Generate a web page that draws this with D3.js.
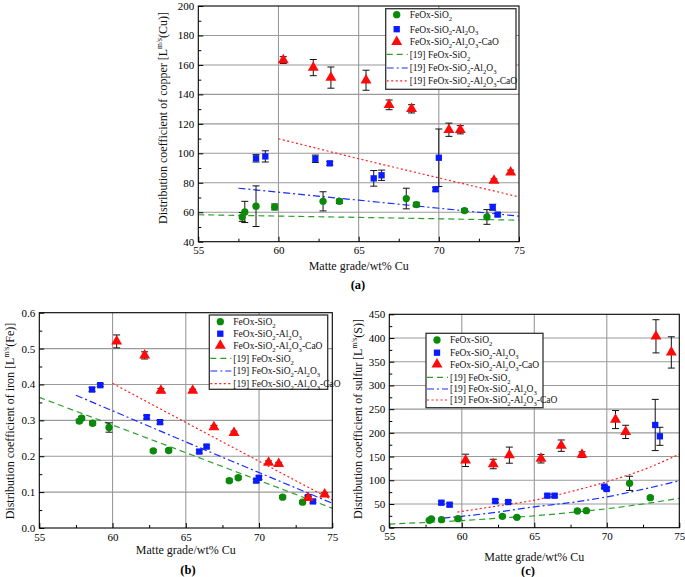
<!DOCTYPE html>
<html><head><meta charset="utf-8">
<script src="https://cdn.jsdelivr.net/npm/d3@7"></script>
<style>
html,body{margin:0;padding:0;background:#fff;}
svg, svg text{font-family:"Liberation Serif","Times New Roman","DejaVu Serif",serif !important;}
</style></head>
<body>
<svg id="chart" width="685" height="577"></svg>
<script>
// ---------- DATA ----------
const xTicks = [55, 60, 65, 70, 75];
const xMinorTicks = [57.5, 62.5, 67.5, 72.5];
const cuYTicks = [40, 60, 80, 100, 120, 140, 160, 180, 200];
const feYTicks = [0.0, 0.1, 0.2, 0.3, 0.4, 0.5, 0.6];
const sYTicks = [0, 50, 100, 150, 200, 250, 300, 350, 400, 450];

const legendLabels = ["FeOx-SiO2", "FeOx-SiO2-Al2O3", "FeOx-SiO2-Al2O3-CaO",
  "[19] FeOx-SiO2", "[19] FeOx-SiO2-Al2O3", "[19] FeOx-SiO2-Al2O3-CaO"];

// [matte grade, value, error]
const cuSiO2 = [[57.74,56.8,3],[57.9,60.2,7.2],[58.6,64.1,13.8],[59.76,63.6,2],[62.78,67.4,6.5],[63.8,67.4,1.5],[67.97,69.3,7],[68.6,65.2,1.5],[71.6,61.1,1.2],[73.0,56.8,5]];
const cuAl = [[58.6,96.6,2.5],[59.18,97.9,3.8],[62.3,96.3,2.5],[63.2,93.2,1.3],[65.94,83.0,5.3],[66.43,85.1,3.5],[69.8,75.6,1.3],[70.0,97.0,19.5],[73.36,63.4,2],[73.67,58.4,1]];
const cuCaO = [[60.3,163.3,2.3],[62.17,158.2,5.5],[63.27,151.4,7.2],[65.46,149.6,6.8],[66.9,132.9,3.3],[68.3,130.2,2.8],[70.63,116.0,4.5],[71.34,116.0,2.8],[73.44,81.5,1.2],[74.48,87.1,1.5]];
const cuRefSiO2 = [[55,58.3],[65,56.5],[75,54.6]];
const cuRefAl = [[57.5,76.3],[65,68.2],[75,57.3]];
const cuRefCaO = [[60,109.9],[65,96.3],[70,83.3],[75,70.4]];

const feSiO2 = [[57.73,0.298,0.005],[57.89,0.306,0.005],[58.64,0.292,0.005],[59.76,0.280,0.013],[62.78,0.215,0.004],[63.83,0.216,0.004],[67.97,0.132,0.004],[68.58,0.140,0.004],[71.61,0.086,0.004],[72.97,0.072,0.004]];
const feAl = [[58.6,0.386,0.006],[59.16,0.398,0.004],[62.33,0.309,0.005],[63.24,0.295,0.005],[65.92,0.213,0.004],[66.42,0.227,0.004],[69.81,0.132,0.004],[69.99,0.140,0.005],[73.34,0.086,0.004],[73.68,0.074,0.004]];
const feCaO = [[60.28,0.520,0.018],[62.19,0.481,0.01],[63.3,0.383,0.006],[65.47,0.383,0.004],[66.92,0.281,0.005],[68.29,0.265,0.005],[70.65,0.182,0.005],[71.34,0.179,0.004],[73.36,0.084,0.004],[74.48,0.094,0.004]];
const feRefSiO2 = [[55,0.364],[65,0.210],[75,0.055]];
const feRefAl = [[57.5,0.370],[65,0.240],[75,0.069]];
const feRefCaO = [[60,0.403],[65,0.294],[75,0.078]];

const sSiO2 = [[57.76,15.5,2],[57.9,18.3,2],[58.6,16.9,2],[59.74,19.0,2],[62.8,23.9,2],[63.8,21.8,2],[67.97,35.2,2.5],[68.59,35.9,2.5],[71.57,93.5,15],[73.0,63.3,3]];
const sAl = [[58.59,52.7,3],[59.16,48.5,3],[62.31,56.3,3],[63.2,54.1,3],[65.9,67.5,3],[66.4,67.5,3],[69.83,86.5,3],[69.99,81.6,3],[73.34,216.6,54],[73.66,192.7,19]];
const sCaO = [[60.26,142,13],[62.17,134.3,10],[63.28,153,17],[65.46,145.5,9],[66.86,173,12],[68.29,154,6],[70.6,228,19],[71.3,202,14],[73.39,403.6,35],[74.45,369.6,33]];
const sRefSiO2 = [[55,7.7],[57.5,11],[60,15],[62.5,20],[65,25],[67.5,32],[70,40],[72.5,50],[75,62]];
const sRefAl = [[57.7,17.6],[60,24],[62.5,33],[65,44],[67.5,53],[70,65],[72.5,81],[75,99]];
const sRefCaO = [[59.7,33],[62.5,46],[65,58],[67.5,76],[70,97],[72.5,122],[75,155]];

// ---------- STYLE ----------
const GREEN = "#0a8a0a", BLUE = "#0a1cff", RED = "#ff0a0a";
const seriesStyle = [
  {color: GREEN, shape: d3.symbolCircle, size: 42},
  {color: BLUE, shape: d3.symbolSquare, size: 40},
  {color: RED, shape: d3.symbolTriangle, size: 52}
];
const refStyle = [
  {color: "#2aa02a", dash: "6,4", width: 1.2},
  {color: "#1a2cff", dash: "7,3,2,3", width: 1.2},
  {color: "#ff2020", dash: "2,2.5", width: 1.2}
];
const FONT = '"Liberation Serif","Times New Roman","DejaVu Serif",serif';

const svg = d3.select("#chart");

function richText(t, str, size) {
  const parts = [];
  for (let i = 0; i < str.length; i++) {
    const c = str[i];
    const sub = /\d/.test(c) && i > 0 && /[A-Za-z]/.test(str[i-1]);
    if (parts.length && parts[parts.length-1].sub === sub) parts[parts.length-1].t += c;
    else parts.push({t: c, sub});
  }
  let shift = 0;
  parts.forEach(p => {
    const ts = t.append("tspan").text(p.t);
    if (p.sub) { ts.attr("dy", size*0.3).attr("font-size", size*0.7); shift = size*0.3; }
    else if (shift) { ts.attr("dy", -shift); shift = 0; }
  });
}

const panels = [
  {left:198.3, right:519, top:6, bottom:241.7, yDomain:[40,200], yTicks:cuYTicks, yFmt:d3.format("d"),
   series:[cuSiO2,cuAl,cuCaO], refs:[cuRefSiO2,cuRefAl,cuRefCaO], curve:d3.curveLinear,
   yTitle:["Distribution coefficient of copper [L","m/s","(Cu)]"], yTitleX:163, yTitleY:118,
   xTitleY:270, caption:"(a)", capX:358, capY:289,
   legend:{x:385.7, y:8.7, w:130.3, h:80.6, rows:[14.7,29.2,41.9,54.3,68,80.9]}},
  {left:39.3, right:332.3, top:312.7, bottom:528, yDomain:[0,0.6], yTicks:feYTicks, yFmt:d3.format(".1f"),
   series:[feSiO2,feAl,feCaO], refs:[feRefSiO2,feRefAl,feRefCaO], curve:d3.curveLinear,
   yTitle:["Distribution coefficient of iron [L","m/s","(Fe)]"], yTitleX:10, yTitleY:421,
   xTitleY:554, caption:"(b)", capX:188, capY:574,
   legend:{x:209.3, y:315, w:118.4, h:74.3, rows:[321.7,333.7,345.7,358.3,371,383.7]}},
  {left:389.3, right:679.3, top:314.3, bottom:527.7, yDomain:[0,450], yTicks:sYTicks, yFmt:d3.format("d"),
   series:[sSiO2,sAl,sCaO], refs:[sRefSiO2,sRefAl,sRefCaO], curve:d3.curveMonotoneX,
   yTitle:["Distribution coefficient of sulfur [L","m/s","(S)]"], yTitleX:358, yTitleY:419,
   xTitleY:561, caption:"(c)", capX:528, capY:575,
   legend:{x:426, y:333.3, w:117, h:74.4, rows:[340,352.7,364.3,377.3,389,400]}}
];

panels.forEach((p, pi) => {
  const x = d3.scaleLinear().domain([55,75]).range([p.left, p.right]);
  const y = d3.scaleLinear().domain(p.yDomain).range([p.bottom, p.top]);
  const g = svg.append("g");

  // grid
  g.append("g").selectAll("line").data(xTicks.slice(1,-1)).join("line")
    .attr("x1", d => x(d)).attr("x2", d => x(d)).attr("y1", p.top).attr("y2", p.bottom)
    .attr("stroke", "#9a9a9a").attr("stroke-width", 1.1);
  g.append("g").selectAll("line").data(p.yTicks.slice(1,-1)).join("line")
    .attr("y1", d => y(d)).attr("y2", d => y(d)).attr("x1", p.left).attr("x2", p.right)
    .attr("stroke", "#9a9a9a").attr("stroke-width", 1.1);

  const step = p.yTicks[1] - p.yTicks[0];
  const yMinor = p.yTicks.slice(0,-1).map(d => d + step/2);

  // axes
  g.append("g").attr("transform", `translate(0,${p.bottom})`)
    .call(d3.axisBottom(x).tickValues(xTicks).tickSize(-5).tickPadding(5).tickFormat(d3.format("d")));
  g.append("g").attr("transform", `translate(0,${p.bottom})`)
    .call(d3.axisBottom(x).tickValues(xMinorTicks).tickSize(-3).tickFormat(""));
  g.append("g").attr("transform", `translate(${p.left},0)`)
    .call(d3.axisLeft(y).tickValues(p.yTicks).tickSize(-5).tickPadding(4).tickFormat(p.yFmt));
  g.append("g").attr("transform", `translate(${p.left},0)`)
    .call(d3.axisLeft(y).tickValues(yMinor).tickSize(-3).tickFormat(""));
  g.selectAll(".domain").remove();
  g.selectAll("g").attr("font-family", FONT);
  g.selectAll(".tick line").attr("stroke", "#000");
  g.selectAll(".tick text").attr("font-size", 11).attr("fill", "#000");

  // reference lines
  p.refs.forEach((r, i) => {
    g.append("path").datum(r)
      .attr("d", d3.line().x(d => x(d[0])).y(d => y(d[1])).curve(p.curve))
      .attr("fill", "none").attr("stroke", refStyle[i].color)
      .attr("stroke-width", refStyle[i].width).attr("stroke-dasharray", refStyle[i].dash);
  });

  // series: error bars + markers
  p.series.forEach((s, i) => {
    const st = seriesStyle[i];
    const eg = g.append("g").attr("stroke", "#111").attr("stroke-width", 1);
    s.forEach(d => {
      const y1 = y(d[1] + d[2]), y2 = y(d[1] - d[2]);
      eg.append("line").attr("x1", x(d[0])).attr("x2", x(d[0])).attr("y1", y1).attr("y2", y2);
      eg.append("line").attr("x1", x(d[0]) - 3.5).attr("x2", x(d[0]) + 3.5).attr("y1", y1).attr("y2", y1);
      eg.append("line").attr("x1", x(d[0]) - 3.5).attr("x2", x(d[0]) + 3.5).attr("y1", y2).attr("y2", y2);
    });
    g.append("g").selectAll("path").data(s).join("path")
      .attr("d", d3.symbol().type(st.shape).size(st.size))
      .attr("transform", d => `translate(${x(d[0])},${y(d[1])})`)
      .attr("fill", st.color);
  });

  // frame
  g.append("rect").attr("x", p.left).attr("y", p.top)
    .attr("width", p.right - p.left).attr("height", p.bottom - p.top)
    .attr("fill", "none").attr("stroke", "#000").attr("stroke-width", 1.1);

  // legend
  const L = p.legend;
  const lg = g.append("g");
  lg.append("rect").attr("x", L.x).attr("y", L.y).attr("width", L.w).attr("height", L.h)
    .attr("fill", "#fff").attr("stroke", "#333").attr("stroke-width", 1.3);
  legendLabels.forEach((lab, i) => {
    const ry = L.rows[i];
    if (i < 3) {
      const st = seriesStyle[i];
      lg.append("path").attr("d", d3.symbol().type(st.shape).size(st.size))
        .attr("transform", `translate(${L.x + 11},${ry})`).attr("fill", st.color);
    } else {
      const rs = refStyle[i-3];
      lg.append("line").attr("x1", L.x + 1).attr("x2", L.x + 22).attr("y1", ry).attr("y2", ry)
        .attr("stroke", rs.color).attr("stroke-width", rs.width).attr("stroke-dasharray", rs.dash);
    }
    const t = lg.append("text").attr("x", L.x + 24).attr("y", ry + 3.4)
      .attr("font-size", 9.5).attr("fill", "#111").attr("font-family", FONT);
    richText(t, lab, 9.5);
  });

  // axis titles
  svg.append("text").attr("x", (p.left + p.right)/2).attr("y", p.xTitleY)
    .attr("text-anchor", "middle").attr("font-size", 12).attr("fill", "#111").attr("font-family", FONT)
    .text("Matte grade/wt% Cu");
  const yt = svg.append("text").attr("transform", `translate(${p.yTitleX},${p.yTitleY}) rotate(-90)`)
    .attr("text-anchor", "middle").attr("dy", "0.35em").attr("font-size", 12).attr("fill", "#111")
    .attr("font-family", FONT);
  yt.append("tspan").text(p.yTitle[0]);
  yt.append("tspan").attr("dy", -5).attr("font-size", 7.5).text(p.yTitle[1]);
  yt.append("tspan").attr("dy", 5).text(p.yTitle[2]);

  svg.append("text").attr("x", p.capX).attr("y", p.capY).attr("text-anchor", "middle")
    .attr("font-size", 12.5).attr("font-weight", "bold").attr("fill", "#000").attr("font-family", FONT)
    .text(p.caption);
});
</script>
</body></html>
